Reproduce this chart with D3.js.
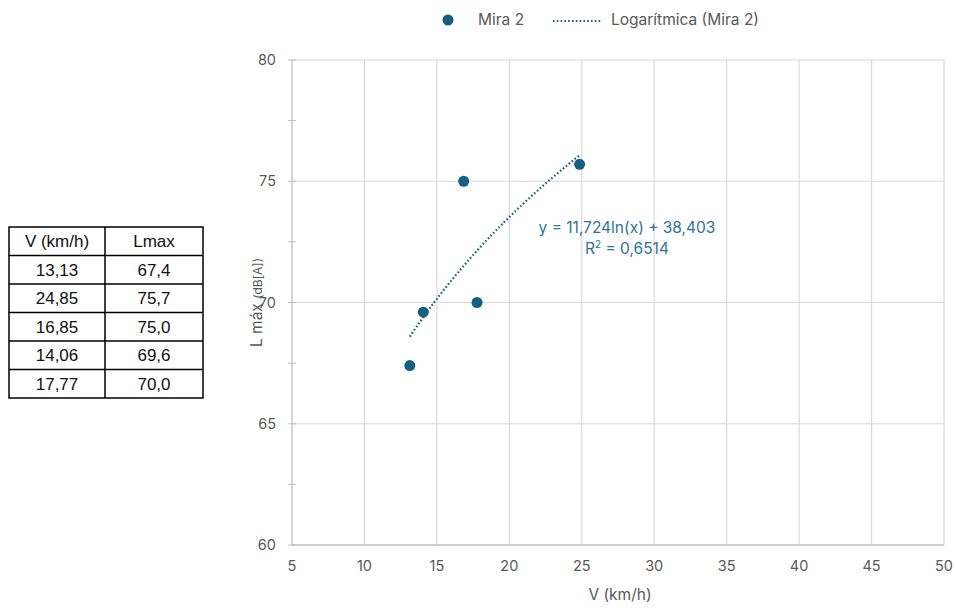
<!DOCTYPE html>
<html>
<head>
<meta charset="utf-8">
<script src="https://cdn.jsdelivr.net/npm/d3@7"></script>
<style>
  body{margin:0;background:#fff;font-family:"Inter","Noto Sans",sans-serif;}
  svg text{font-family:"Inter","Noto Sans",sans-serif;}
</style>
</head>
<body>
<svg id="chart" width="956" height="610"></svg>
<script>
'use strict';
// data
const speeds=[13.13,24.85,16.85,14.06,17.77];
const levels=[67.4,75.7,75.0,69.6,70.0];
const speedLabels=['13,13','24,85','16,85','14,06','17,77'];
const levelLabels=['67,4','75,7','75,0','69,6','70,0'];
const tableHeader=['V (km/h)','Lmax'];
const xTicks=[5,10,15,20,25,30,35,40,45,50];
const yTicks=[60,65,70,75,80];
const yMinor=[62.5,67.5,72.5,77.5];
const fitA=11.724, fitB=38.403;   // y = a ln(x) + b
const eqText='y = 11,724ln(x) + 38,403';
const r2Text='= 0,6514';

const COL='#156082', GRID='#d9d9d9', AX='#bfbfbf', TXT='#595959';
const svg=d3.select('#chart');
const m={left:292,right:944,top:60,bottom:545};

const x=d3.scaleLinear().domain([5,50]).range([m.left,m.right]);
const y=d3.scaleLinear().domain([60,80]).range([m.bottom,m.top]);

// gridlines
const g=svg.append('g');
g.selectAll('.vg').data(xTicks.slice(1)).join('line')
  .attr('x1',d=>x(d)).attr('x2',d=>x(d)).attr('y1',m.top).attr('y2',m.bottom)
  .attr('stroke',GRID).attr('stroke-width',1.2);
g.selectAll('.hg').data(yTicks.slice(1)).join('line')
  .attr('x1',m.left).attr('x2',m.right).attr('y1',d=>y(d)).attr('y2',d=>y(d))
  .attr('stroke',GRID).attr('stroke-width',1.2);

// axes lines + ticks
g.append('line').attr('x1',m.left).attr('x2',m.left).attr('y1',m.top).attr('y2',m.bottom)
  .attr('stroke',AX).attr('stroke-width',1.3);
g.append('line').attr('x1',m.left).attr('x2',m.right).attr('y1',m.bottom).attr('y2',m.bottom)
  .attr('stroke',AX).attr('stroke-width',1.3);
g.selectAll('.yt').data(yTicks.concat(yMinor)).join('line')
  .attr('x1',m.left-4).attr('x2',m.left+4).attr('y1',d=>y(d)).attr('y2',d=>y(d))
  .attr('stroke',AX).attr('stroke-width',1);

// tick labels
g.selectAll('.xl').data(xTicks).join('text')
  .attr('x',d=>x(d)).attr('y',m.bottom+26).attr('text-anchor','middle')
  .attr('font-size',14.5).attr('fill',TXT).text(d=>d);
g.selectAll('.yl').data(yTicks).join('text')
  .attr('x',m.left-16).attr('y',d=>y(d)).attr('dy','0.35em').attr('text-anchor','end')
  .attr('font-size',14.5).attr('fill',TXT).text(d=>d);

// axis titles
svg.append('text').attr('x',(m.left+m.right)/2+2).attr('y',600).attr('text-anchor','middle')
  .attr('font-size',15.5).attr('fill',TXT).text('V (km/h)');
const yt=svg.append('text').attr('transform',`translate(262,${(m.top+m.bottom)/2}) rotate(-90)`)
  .attr('text-anchor','middle').attr('fill',TXT);
yt.append('tspan').attr('font-size',15.5).text('L máx ');
yt.append('tspan').attr('font-size',12).text('(dB[A])');

// log trend line
const xs=d3.range(d3.min(speeds),d3.max(speeds)+0.001,0.1).concat([d3.max(speeds)]);
const line=d3.line().x(d=>x(d)).y(d=>y(fitA*Math.log(d)+fitB));
svg.append('path').datum(xs).attr('d',line).attr('fill','none')
  .attr('stroke',COL).attr('stroke-width',2.2).attr('stroke-dasharray','1.6 2.2');

// points
svg.selectAll('.pt').data(speeds).join('circle')
  .attr('cx',d=>x(d)).attr('cy',(d,i)=>y(levels[i])).attr('r',5.5).attr('fill',COL);

// trendline label
const lbl=svg.append('g').attr('fill','#2f7399').attr('font-size',15.5);
lbl.append('text').attr('x',627).attr('y',233).attr('text-anchor','middle').text(eqText);
const r2=lbl.append('text').attr('x',627).attr('y',254).attr('text-anchor','middle');
r2.append('tspan').text('R');
r2.append('tspan').attr('font-size',10).attr('dy',-6).text('2');
r2.append('tspan').attr('dy',6).text(' '+r2Text);

// legend
const lg=svg.append('g');
lg.append('circle').attr('cx',448).attr('cy',20).attr('r',5.5).attr('fill',COL);
lg.append('text').attr('x',478).attr('y',25).attr('font-size',15.5).attr('fill',TXT).text('Mira 2');
lg.append('line').attr('x1',553).attr('x2',601).attr('y1',21).attr('y2',21)
  .attr('stroke',COL).attr('stroke-width',2.2).attr('stroke-dasharray','1.6 2.2');
lg.append('text').attr('x',611).attr('y',25).attr('font-size',15.5).attr('fill',TXT).text('Logarítmica (Mira 2)');

// data table on the left
const tb={x0:9,x1:105,x2:203,top:227,rh:28.5};
const rows=[tableHeader].concat(speedLabels.map((s,i)=>[s,levelLabels[i]]));
const t=svg.append('g');
const nR=rows.length;
t.append('rect').attr('x',tb.x0).attr('y',tb.top).attr('width',tb.x2-tb.x0).attr('height',tb.rh*nR)
  .attr('fill','none').attr('stroke','#000').attr('stroke-width',1.5);
t.append('line').attr('x1',tb.x1).attr('x2',tb.x1).attr('y1',tb.top).attr('y2',tb.top+tb.rh*nR)
  .attr('stroke','#000').attr('stroke-width',1.5);
t.selectAll('.rl').data(d3.range(1,nR)).join('line')
  .attr('x1',tb.x0).attr('x2',tb.x2).attr('y1',d=>tb.top+d*tb.rh).attr('y2',d=>tb.top+d*tb.rh)
  .attr('stroke','#000').attr('stroke-width',1.5);
rows.forEach((r,i)=>{
  t.append('text').attr('x',(tb.x0+tb.x1)/2).attr('y',tb.top+i*tb.rh+tb.rh/2).attr('dy','0.36em')
    .attr('text-anchor','middle').attr('font-size',17).attr('fill','#111')
    .style('font-family','"Liberation Sans",Arial,sans-serif').text(r[0]);
  t.append('text').attr('x',(tb.x1+tb.x2)/2).attr('y',tb.top+i*tb.rh+tb.rh/2).attr('dy','0.36em')
    .attr('text-anchor','middle').attr('font-size',17).attr('fill','#111')
    .style('font-family','"Liberation Sans",Arial,sans-serif').text(r[1]);
});
</script>
</body>
</html>
